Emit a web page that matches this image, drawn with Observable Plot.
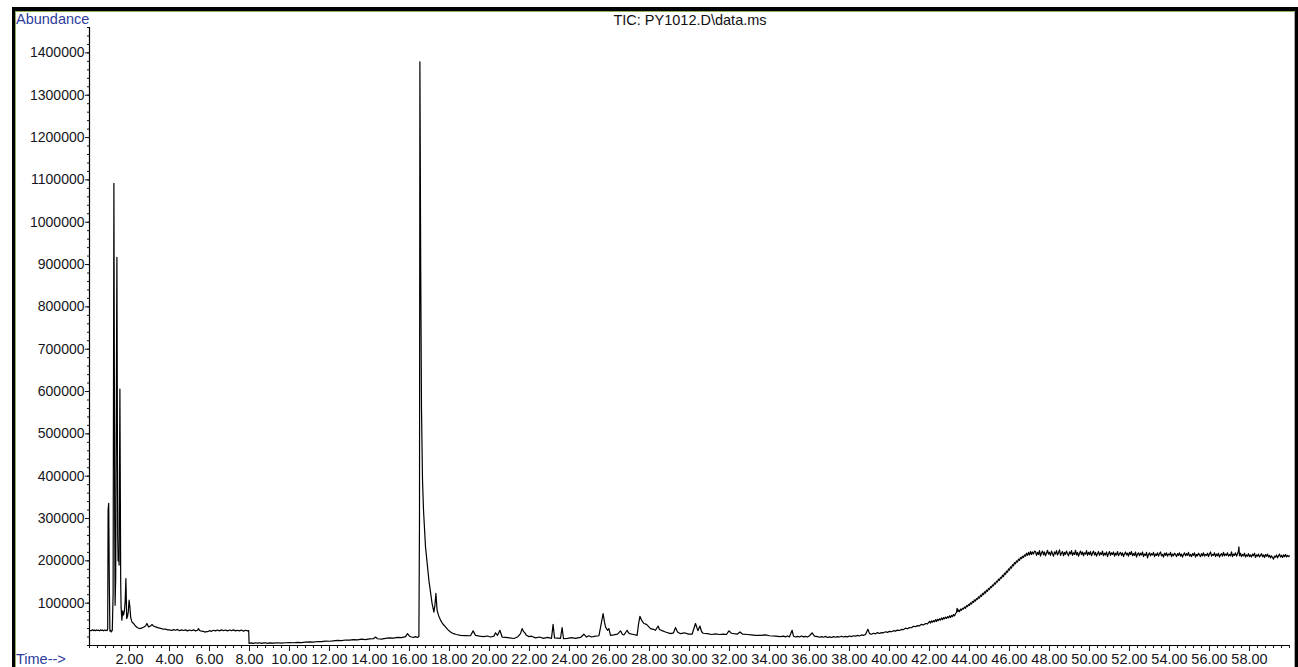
<!DOCTYPE html>
<html>
<head>
<meta charset="utf-8">
<script src="https://cdn.jsdelivr.net/npm/d3@7"></script>
<script src="https://cdn.jsdelivr.net/npm/@observablehq/plot@0.6"></script>
<style>
  html, body { margin: 0; padding: 0; background: #fff; }
  #wrap { position: relative; width: 1298px; height: 667px; overflow: hidden; background: #fff; }
  #chart { position: absolute; left: 0; top: 0; }
  .frame { position: absolute; left: 12px; top: 7px; width: 1286px; height: 720px; box-sizing: border-box;
           border-left: 3px solid #000; border-top: 4px solid #000; border-right: 3px solid #000; pointer-events: none; }
  .frame .inner { position: absolute; left: 0; top: 0; right: 0; bottom: 0;
           border-left: 1px solid #8fb060; border-top: 1px solid #8fb060; border-right: 1px solid #aaa; }
  .lbl { position: absolute; font-family: "Liberation Sans", Arial, sans-serif; font-size: 14.5px; line-height: 14.5px; white-space: nowrap; }
  .blue { color: #2c3d9c; }
</style>
</head>
<body>
<div id="wrap">
  <div id="chart"></div>
  <div class="frame"><div class="inner"></div></div>
  <div class="lbl blue" style="left:16px; top:11.5px;">Abundance</div>
  <div class="lbl" style="left:0; width:1380px; text-align:center; top:12.5px; color:#111;">TIC: PY1012.D\data.ms</div>
  <div class="lbl blue" style="left:16px; top:652px;">Time--&gt;</div>
</div>
<script>
// Tick labels
const xTickLabels = [2, 4, 6, 8, 10, 12, 14, 16, 18, 20, 22, 24, 26, 28, 30, 32, 34, 36, 38, 40, 42, 44, 46, 48, 50, 52, 54, 56, 58];
const yTickLabels = [100000, 200000, 300000, 400000, 500000, 600000, 700000, 800000, 900000, 1000000, 1100000, 1200000, 1300000, 1400000];

// TIC trace segments: [retention time (min), abundance]
const earlyBaseline = [
  [0.0,36000],[0.05,34800],[0.1,35600],[0.15,37000],[0.2,35200],[0.25,36400],[0.3,34900],[0.35,36800],[0.4,35300],
  [0.45,36200],[0.5,34600],[0.55,36900],[0.6,35400],[0.65,36300],[0.7,34800],[0.75,36600],[0.8,35300],[0.85,36100],
  [0.88,35200],[0.91,40000],[0.93,320000],[0.96,336000],[0.99,150000],[1.02,34000],[1.06,35500],[1.09,32000],[1.14,36000]
];
const earlyPeaks = [
  [1.18,120000],[1.22,1092000],[1.26,300000],[1.28,95000],[1.31,160000],[1.37,917000],[1.41,260000],[1.43,200000],
  [1.46,215000],[1.48,190000],[1.52,606000],[1.56,150000],[1.58,90000],[1.62,60000],[1.66,82000],[1.70,72000],
  [1.74,80000],[1.78,100000],[1.82,158000],[1.86,64000],[1.90,68000],[1.94,80000],[1.98,107000],[2.02,90000],
  [2.06,66000],[2.12,56000],[2.2,52000],[2.3,46000],[2.4,42000],[2.5,40000],[2.6,41000],[2.7,43000],[2.8,46000],
  [2.87,52000],[2.95,44000],[3.05,46000],[3.12,49500],[3.2,46000],[3.3,44000],[3.45,41500],[3.6,40000],[3.7,38500],
  [3.8,39000],[3.9,37000],
  [4.0,37000],[4.1,35500],[4.2,37500],[4.3,36000],[4.4,38000],[4.5,35000],[4.6,37000],[4.7,35500],[4.8,37000],
  [4.9,34500],[5.0,36500],[5.1,35000],[5.2,37000],[5.3,34500],[5.4,36000],[5.45,40000],[5.5,35500],[5.6,34000],
  [5.7,33500],[5.78,31500],[5.85,33000],[5.9,32500],[6.0,35000],[6.1,33500],[6.2,36000],[6.3,34500],[6.4,36500],
  [6.5,34500],[6.6,37000],[6.7,35000],[6.8,36500],[6.9,34500],[7.0,36500],[7.1,35000],[7.2,37000],[7.3,34500],
  [7.4,36000],[7.5,34500],[7.6,36500],[7.7,34000],[7.8,36000],[7.9,34500],[7.96,35000],[7.98,5000]
];
const lowBaseline = [
  [8.1,6000],[8.2,5000],[8.3,6500],[8.4,5500],[8.5,6500],[8.6,5000],[8.7,6000],[8.8,6500],[8.9,5000],[9.0,6000],
  [9.2,5500],[9.4,6500],[9.6,5500],[9.8,6500],[10.0,7000],
  [10.2,6500],[10.4,7500],[10.6,7000],[10.8,8000],[11.0,8500],[11.2,8000],[11.4,9500],[11.6,9000],[11.8,10500],
  [12.0,10000],[12.2,11000],[12.4,12000],[12.6,11500],[12.8,13000],[13.0,12500],[13.2,14000],[13.4,13500],
  [13.6,15000],[13.8,14000],[14.0,15500],[14.2,16000],[14.3,20000],[14.4,16000],[14.6,15000],[14.8,17000],
  [15.0,18000],[15.2,17500],[15.4,19000],[15.6,18500],[15.8,21000],[15.9,28000],[16.0,22000],[16.1,20000],
  [16.2,19000],[16.3,21000],[16.4,19000],[16.47,21000]
];
const solventPeak = [
  [16.5,300000],[16.52,1379000],[16.56,900000],[16.6,560000],[16.65,391000],[16.7,320000],[16.8,233000],
  [16.97,154000],[17.13,99000],[17.22,79000],[17.27,95000],[17.32,123000],[17.38,83000],[17.46,70000]
];
const midRegion = [
  [17.55,60000],[17.65,52000],[17.8,44000],[17.9,38000],[18.05,32000],[18.2,28000],[18.35,26000],[18.55,24000],
  [18.8,23500],[19.05,23000],[19.18,34500],[19.3,24000],[19.5,22000],[19.7,21000],[19.9,22500],[20.05,20000],
  [20.22,22000],[20.3,30000],[20.4,24000],[20.52,36000],[20.63,20000],[20.8,19000],[21.0,18000],[21.22,16500],
  [21.4,20000],[21.55,28000],[21.63,40000],[21.7,33000],[21.75,31000],[21.85,24000],[21.97,21000],[22.1,22000],
  [22.3,18000],[22.5,20000],[22.7,17000],[22.9,19000],[23.1,17000],[23.18,50000],[23.25,18000],[23.4,17500],
  [23.55,17000],[23.63,42500],[23.7,16000],[23.9,17000],[24.1,18500],[24.3,17000],[24.55,19000],[24.72,26700],
  [24.85,20000],[24.97,23000],[25.1,20000],[25.3,22000],[25.47,23000],[25.58,50000],[25.68,75600],[25.75,55000],
  [25.8,44000],[25.9,36000],[25.97,40000],[26.05,24000],[26.2,25000],[26.4,27000],[26.55,34500],[26.65,26000],
  [26.72,25000],[26.8,30000],[26.88,36000],[26.95,30000],[27.0,28000],[27.2,26000],[27.38,24000],[27.45,50000],
  [27.52,69000],[27.6,60000],[27.72,52000],[27.85,50000],[28.05,40000],[28.2,38000],[28.3,36000],[28.43,46000],
  [28.5,38000],[28.63,35000],[28.8,32000],[29.05,28000],[29.2,30000],[29.3,42500],[29.4,32000],[29.55,28000],
  [29.75,30000],[29.95,27000],[30.13,26700],[30.3,52000],[30.42,35000],[30.52,46000],[30.6,33000],[30.68,29000],
  [30.9,28000],[31.1,26000],[31.3,27500],[31.5,26000],[31.7,27000],[31.85,26000],[31.97,34500],[32.1,29000],
  [32.22,28000],[32.4,27000],[32.52,32000],[32.65,27000],[32.88,26000],[33.1,25000],[33.3,24000],[33.55,24000],
  [33.8,25000],[34.0,23000],[34.3,22000],[34.55,21000]
];
const lateBaseline = [
  [34.7,22000],[34.8,20500],[34.9,22500],[35.0,20500],[35.13,36000],[35.2,22000],[35.3,20000],[35.4,21500],
  [35.5,20000],[35.6,22500],[35.7,20500],[35.8,21500],[35.9,20000],[36.0,23000],[36.13,30000],[36.25,22000],
  [36.4,21000],[36.5,19500],[36.6,21000],[36.7,19500],[36.8,21500],[36.9,19000],[37.0,20500],[37.1,19000],
  [37.2,21000],[37.3,19500],[37.4,21000],[37.5,20000],[37.6,22000],[37.7,20000],[37.8,21500],[37.9,20500],
  [38.0,22500],[38.1,21000],[38.2,23000],[38.3,22000],[38.4,24000],[38.5,22500],[38.6,25000],[38.7,24000],
  [38.8,26000],[38.92,38500],[39.0,28000],[39.1,26500],[39.2,29000],[39.3,27500],[39.4,30500],[39.5,28500],
  [39.6,30500],[39.7,30000],[39.8,32500],[39.9,31000],[40.0,33500],[40.1,32500],[40.2,35000],[40.3,34000],
  [40.4,36500],[40.5,35500],[40.6,38000],[40.7,37500],[40.8,41000],[40.9,39500],[41.0,42500],[41.1,42000],
  [41.2,45500],[41.3,44500],[41.4,47000],[41.5,46500],[41.6,50000],[41.7,48500],[41.8,52000],[41.9,51000]
];
const ovenRamp = [
  [42.0,57000],[42.05,53000],[42.1,58000],[42.15,55000],[42.2,59000],[42.25,56000],[42.3,61000],[42.35,57000],
  [42.4,62000],[42.45,59000],[42.5,63000],[42.55,60000],[42.6,65000],[42.65,61000],[42.7,66000],[42.75,63000],
  [42.8,67000],[42.85,64000],[42.9,68000],[42.95,65000],[43.0,70000],[43.05,66000],[43.1,71000],[43.15,68000],
  [43.2,73000],[43.25,70000],[43.3,75000],[43.35,78000],[43.38,88000],[43.42,80000],[43.45,84000],[43.5,80000],
  [43.55,86000],[43.6,83000],[43.65,88000],[43.7,86000],[43.75,91000],[43.8,88000],[43.85,94000],[43.9,92000],
  [43.95,97000],[44.0,95000],[44.05,101000],[44.1,98000],[44.15,104000],[44.2,102000],[44.25,108000],[44.3,105000],
  [44.35,111000],[44.4,109000],[44.45,115000],[44.5,112000],[44.55,119000],[44.6,116000],[44.65,123000],[44.7,120000],
  [44.75,127000],[44.8,124000],[44.85,131000],[44.9,128000],[44.95,135000],[45.0,132000],[45.05,139000],[45.1,137000],
  [45.15,143000],[45.2,141000],[45.25,148000],[45.3,145000],[45.35,152000],[45.4,150000],[45.45,157000],[45.5,154000],
  [45.55,161000],[45.6,159000],[45.65,166000],[45.7,163000],[45.75,171000],[45.8,168000],[45.85,176000],[45.9,173000],
  [45.95,181000],[46.0,178000],[46.05,186000],[46.1,183000],[46.15,191000],[46.2,188000],[46.25,196000],[46.3,193000],
  [46.35,200000],[46.4,197000],[46.45,204000],[46.5,201000],[46.55,208000],[46.6,205000],[46.65,211000],[46.7,208000],
  [46.75,214000],[46.8,211000],[46.85,218000],[46.9,213000],[46.95,220000],[47.0,214000],[47.05,222000],[47.1,215000],
  [47.15,221000],[47.2,216000],[47.25,223000]
];
const plateau = [
  [47.3,222000],[47.35,213000],[47.4,220000],[47.45,215000],[47.5,224000],[47.55,211000],[47.6,219000],[47.65,223000],
  [47.7,214000],[47.75,221000],[47.8,212000],[47.85,218000],[47.9,225000],[47.95,216000],[48.0,220000],[48.05,213000],
  [48.1,223000],[48.15,217000],[48.2,211000],[48.25,221000],[48.3,216000],[48.35,224000],[48.4,214000],[48.45,219000],
  [48.5,226000],[48.55,213000],[48.6,218000],[48.65,222000],[48.7,212000],[48.75,220000],[48.8,215000],[48.85,223000],
  [48.9,217000],[48.95,212000],[49.0,221000],[49.05,216000],[49.1,224000],[49.15,213000],[49.2,219000],[49.25,215000],
  [49.3,225000],[49.35,214000],[49.4,220000],[49.45,211000],[49.5,218000],[49.55,223000],[49.6,215000],[49.65,221000],
  [49.7,212000],[49.75,219000],[49.8,216000],[49.85,224000],[49.9,213000],[49.95,220000],[50.0,215000],[50.05,222000],
  [50.1,212000],[50.15,218000],[50.2,223000],[50.25,214000],[50.3,220000],[50.35,211000],[50.4,217000],[50.45,222000],
  [50.5,213000],[50.55,219000],[50.6,215000],[50.65,223000],[50.7,212000],[50.75,218000],[50.8,214000],[50.85,221000],
  [50.9,210000],[50.95,217000],[51.0,222000],[51.05,213000],[51.1,219000],[51.15,215000],[51.2,221000],[51.25,211000],
  [51.3,218000],[51.35,214000],[51.4,222000],[51.45,212000],[51.5,217000],[51.55,220000],[51.6,213000],[51.65,219000],
  [51.7,210000],[51.75,216000],[51.8,221000],[51.85,214000],[51.9,218000],[51.95,211000],[52.0,220000],[52.05,215000],
  [52.1,222000],[52.15,212000],[52.2,217000],[52.25,213000],[52.3,221000],[52.35,209000],[52.4,216000],[52.45,219000],
  [52.5,212000],[52.55,218000],[52.6,214000],[52.65,221000],[52.7,210000],[52.75,216000],[52.8,213000],[52.85,220000],
  [52.9,207000],[52.95,215000],[53.0,219000],[53.05,212000],[53.1,217000],[53.15,214000],[53.2,220000],[53.25,210000],
  [53.3,216000],[53.35,213000],[53.4,219000],[53.45,211000],[53.5,217000],[53.55,221000],[53.6,212000],[53.65,215000],
  [53.7,209000],[53.75,218000],[53.8,213000],[53.85,219000],[53.9,211000],[53.95,216000],[54.0,214000],[54.05,220000],
  [54.1,210000],[54.15,216000],[54.2,212000],[54.25,218000],[54.3,215000],[54.35,210000],[54.4,217000],[54.45,213000],
  [54.5,219000],[54.55,211000],[54.6,216000],[54.65,209000],[54.7,215000],[54.75,219000],[54.8,212000],[54.85,217000],
  [54.9,213000],[54.95,220000],[55.0,211000],[55.05,215000],[55.1,210000],[55.15,217000],[55.2,213000],[55.25,219000],
  [55.3,209000],[55.35,215000],[55.4,212000],[55.45,218000],[55.5,214000],[55.55,210000],[55.6,217000],[55.65,212000],
  [55.7,219000],[55.75,211000],[55.8,215000],[55.85,213000],[55.9,218000],[55.95,210000],[56.0,216000],[56.05,221000],
  [56.1,211000],[56.15,215000],[56.2,213000],[56.25,219000],[56.3,210000],[56.35,216000],[56.4,212000],[56.45,218000],
  [56.5,209000],[56.55,214000],[56.6,217000],[56.65,211000],[56.7,220000],[56.75,212000],[56.8,216000],[56.85,213000],
  [56.9,219000],[56.95,211000],[57.0,215000],[57.05,212000],[57.1,221000],[57.15,210000],[57.2,216000],[57.25,213000],
  [57.3,219000],[57.35,211000],[57.4,216000],[57.45,224000],[57.47,233000],[57.5,212000],[57.55,218000],[57.6,210000],
  [57.65,215000],[57.7,212000],[57.75,218000],[57.8,209000],[57.85,214000],[57.9,211000],[57.95,217000],[58.0,210000],
  [58.05,214000],[58.1,209000],[58.15,216000],[58.2,212000],[58.25,218000],[58.3,208000],[58.35,214000],[58.4,211000],
  [58.45,216000],[58.5,209000],[58.55,213000],[58.6,217000],[58.65,210000],[58.7,214000],[58.75,208000],[58.8,215000],
  [58.85,211000],[58.9,216000],[58.95,209000],[59.0,213000],[59.05,207000],[59.1,212000],[59.15,208000],[59.2,204000],
  [59.25,211000],[59.3,209000],[59.35,214000],[59.4,207000],[59.45,212000],[59.5,216000],[59.55,209000],[59.6,213000],
  [59.65,208000],[59.7,214000],[59.75,210000],[59.8,215000],[59.85,209000],[59.9,213000],[59.95,210000],[60.0,212000]
];

const trace = [...earlyBaseline, ...earlyPeaks, ...lowBaseline, ...solventPeak, ...midRegion, ...lateBaseline, ...ovenRamp, ...plateau]
  .map(([t, v]) => ({t, v}));

const xMinor = d3.range(0, 60.001, 0.4);
const yMinor = d3.range(0, 1460001, 20000);

const chart = Plot.plot({
  width: 1298,
  height: 667,
  marginLeft: 89,
  marginRight: 9,
  marginTop: 27,
  marginBottom: 22,
  x: {domain: [0, 60]},
  y: {domain: [0, 1460000]},
  style: {fontFamily: "'Liberation Sans', Arial, sans-serif", fontSize: "14px", color: "#151520", background: "#fff", overflow: "visible"},
  marks: [
    Plot.axisY(yMinor, {tickSize: 2, tickFormat: () => "", label: null, strokeWidth: 1}),
    Plot.axisY(yTickLabels, {tickSize: 4, tickPadding: 1, tickFormat: d3.format("d"), label: null, fontSize: 14}),
    Plot.axisX(xMinor, {tickSize: 3, tickFormat: () => "", label: null}),
    Plot.axisX(xTickLabels, {tickSize: 6, tickPadding: 2, tickFormat: d3.format(".2f"), label: null, fontSize: 14.5}),
    Plot.ruleX([0], {stroke: "#000", strokeWidth: 1.2}),
    Plot.ruleY([0], {stroke: "#000", strokeWidth: 1.2}),
    Plot.line(trace, {x: "t", y: "v", stroke: "#000", strokeWidth: 1.2, strokeLinejoin: "round"})
  ]
});
document.getElementById("chart").appendChild(chart);
</script>
</body>
</html>
